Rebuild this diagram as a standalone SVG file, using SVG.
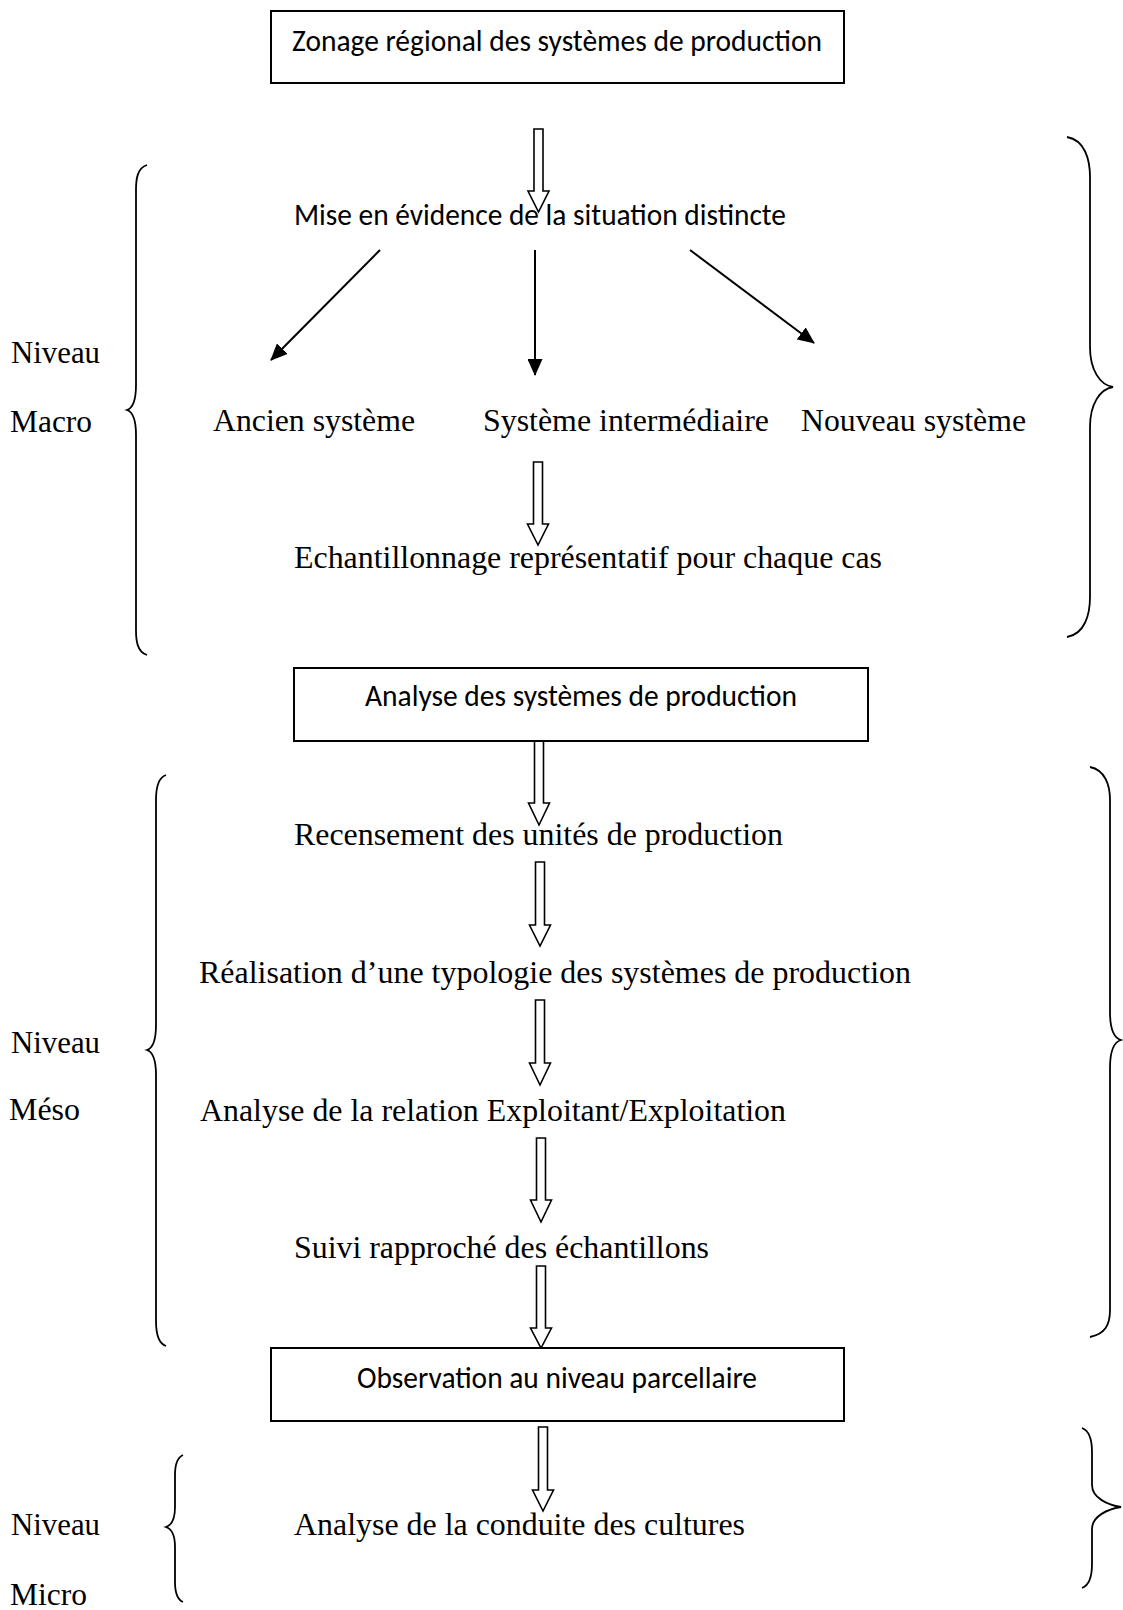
<svg xmlns="http://www.w3.org/2000/svg" width="1123" height="1610" viewBox="0 0 1123 1610">
<style>
.box{fill:#fff;stroke:#000;stroke-width:2}
.sans{font-family:Carlito,Calibri,Lato,"Liberation Sans",sans-serif;font-size:30px;fill:#000}
.serif{font-family:"Liberation Serif","Times New Roman",serif;font-size:31.5px;fill:#000}
.hollow{fill:#fff;stroke:#000;stroke-width:1.6;stroke-linejoin:miter}
.brace{fill:none;stroke:#000;stroke-width:1.8}
.arr{fill:none;stroke:#000;stroke-width:2}
</style>
<defs>
<marker id="ah" markerWidth="17" markerHeight="15" refX="16" refY="7.5" orient="auto" markerUnits="userSpaceOnUse"><path d="M0,0 L17,7.5 L0,15 z" fill="#000"/></marker>
</defs>
<rect width="1123" height="1610" fill="#fff"/>

<g id="connectors">
<polygon class="hollow" points="534,129 543,129 543,191 549,191 538.5,212 528,191 534,191"/>
<line class="arr" x1="380" y1="250" x2="271" y2="360" marker-end="url(#ah)"/>
<line class="arr" x1="535" y1="250" x2="535" y2="375" marker-end="url(#ah)"/>
<line class="arr" x1="690" y1="250" x2="814" y2="343" marker-end="url(#ah)"/>
<polygon class="hollow" points="533.5,462 542.5,462 542.5,524 548.5,524 538,545 527.5,524 533.5,524"/>
<polygon class="hollow" points="534.5,741 543.5,741 543.5,803 549.5,803 539,825 528.5,803 534.5,803"/>
<polygon class="hollow" points="535.5,862 544.5,862 544.5,925 550.5,925 540,946 529.5,925 535.5,925"/>
<polygon class="hollow" points="535.5,1000 544.5,1000 544.5,1063 550.5,1063 540,1085 529.5,1063 535.5,1063"/>
<polygon class="hollow" points="536.5,1138 545.5,1138 545.5,1200 551.5,1200 541,1222 530.5,1200 536.5,1200"/>
<polygon class="hollow" points="536.5,1266 545.5,1266 545.5,1328 551.5,1328 541,1348 530.5,1328 536.5,1328"/>
<polygon class="hollow" points="538.5,1427 547.5,1427 547.5,1490 553.5,1490 543,1511 532.5,1490 538.5,1490"/>
</g>

<g id="braces">
<path class="brace" d="M147,165 C137,168 136,180 136,190 L136,385 C136,400 133,408 127,410 C133,412 136,420 136,435 L136,630 C136,640 137,652 147,655"/>
<path class="brace" d="M166,775 C157,778 156,790 156,800 L156,1025 C156,1040 153,1048 147,1050 C153,1052 156,1060 156,1075 L156,1321 C156,1331 157,1343 166,1346"/>
<path class="brace" d="M183,1455 C176,1458 175,1467 175,1475 L175,1507 C175,1519 172,1525 166,1527 C172,1529 175,1535 175,1547 L175,1582 C175,1590 176,1599 183,1602"/>
<path class="brace" d="M1067,137 C1085,140 1090,160 1090,177 L1090,347 C1090,370 1100,385 1113,387 C1100,389 1090,404 1090,427 L1090,597 C1090,614 1085,634 1067,637"/>
<path class="brace" d="M1090,767 C1105,770 1110,785 1110,800 L1110,1012 C1110,1028 1114,1038 1121,1040 C1114,1042 1110,1052 1110,1068 L1110,1310 C1110,1325 1105,1334 1090,1337"/>
<path class="brace" d="M1082,1428 C1090,1431 1092,1442 1092,1452 L1092,1485 C1092,1498 1108,1505 1121,1507 C1108,1509 1092,1516 1092,1529 L1092,1564 C1092,1576 1090,1585 1082,1588"/>
</g>

<g id="box-zonage">
<rect class="box" x="271" y="11" width="573" height="72"/>
<text class="sans" x="292" y="51" textLength="530" lengthAdjust="spacingAndGlyphs">Zonage régional des systèmes de production</text>
</g>
<g id="mise-en-evidence">
<text class="sans" x="294" y="225" textLength="492" lengthAdjust="spacingAndGlyphs">Mise en évidence de la situation distincte</text>
</g>
<g id="ancien">
<text class="serif" x="213" y="431" textLength="202" lengthAdjust="spacingAndGlyphs">Ancien système</text>
</g>
<g id="intermediaire">
<text class="serif" x="483" y="431" textLength="286" lengthAdjust="spacingAndGlyphs">Système intermédiaire</text>
</g>
<g id="nouveau">
<text class="serif" x="801" y="431" textLength="225" lengthAdjust="spacingAndGlyphs">Nouveau système</text>
</g>
<g id="echantillonnage">
<text class="serif" x="294" y="568" textLength="588" lengthAdjust="spacingAndGlyphs">Echantillonnage représentatif pour chaque cas</text>
</g>
<g id="box-analyse">
<rect class="box" x="294" y="668" width="574" height="73"/>
<text class="sans" x="365" y="706" textLength="432" lengthAdjust="spacingAndGlyphs">Analyse des systèmes de production</text>
</g>
<g id="recensement">
<text class="serif" x="294" y="845" textLength="489" lengthAdjust="spacingAndGlyphs">Recensement des unités de production</text>
</g>
<g id="typologie">
<text class="serif" x="199" y="983" textLength="712" lengthAdjust="spacingAndGlyphs">Réalisation d’une typologie des systèmes de production</text>
</g>
<g id="relation">
<text class="serif" x="200" y="1121" textLength="586" lengthAdjust="spacingAndGlyphs">Analyse de la relation Exploitant/Exploitation</text>
</g>
<g id="suivi">
<text class="serif" x="294" y="1258" textLength="415" lengthAdjust="spacingAndGlyphs">Suivi rapproché des échantillons</text>
</g>
<g id="box-observation">
<rect class="box" x="271" y="1348" width="573" height="73"/>
<text class="sans" x="357" y="1388" textLength="400" lengthAdjust="spacingAndGlyphs">Observation au niveau parcellaire</text>
</g>
<g id="conduite">
<text class="serif" x="294" y="1535" textLength="451" lengthAdjust="spacingAndGlyphs">Analyse de la conduite des cultures</text>
</g>

<g id="labels">
<text class="serif" x="11" y="363" textLength="89" lengthAdjust="spacingAndGlyphs">Niveau</text>
<text class="serif" x="10" y="432" textLength="82" lengthAdjust="spacingAndGlyphs">Macro</text>
<text class="serif" x="11" y="1053" textLength="89" lengthAdjust="spacingAndGlyphs">Niveau</text>
<text class="serif" x="9" y="1120" textLength="71" lengthAdjust="spacingAndGlyphs">Méso</text>
<text class="serif" x="11" y="1535" textLength="89" lengthAdjust="spacingAndGlyphs">Niveau</text>
<text class="serif" x="10" y="1605" textLength="77" lengthAdjust="spacingAndGlyphs">Micro</text>
</g>
</svg>
